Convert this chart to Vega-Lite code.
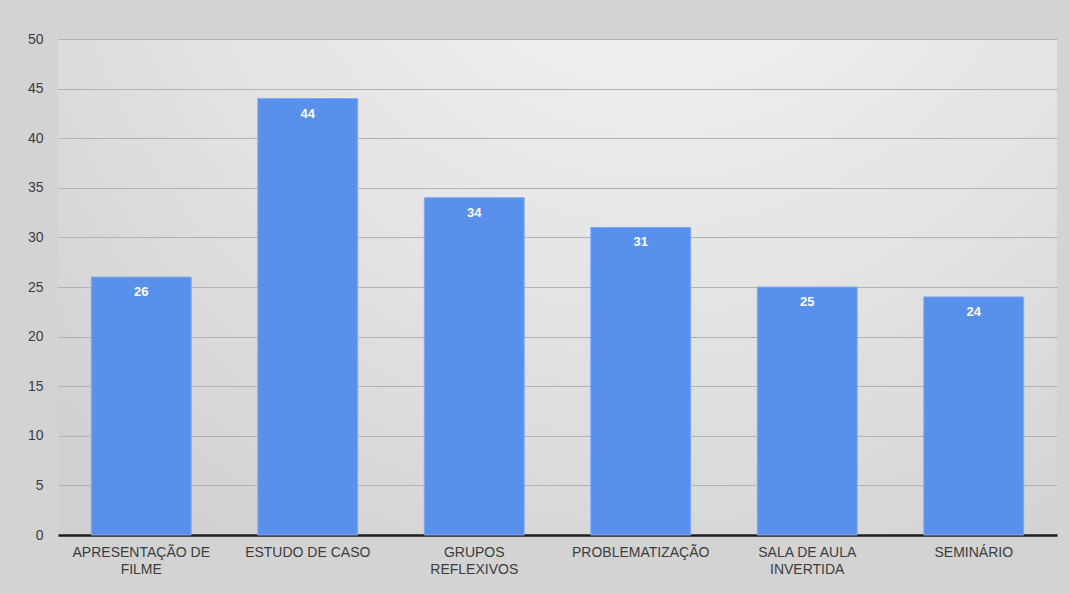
{
  "$schema": "https://vega.github.io/schema/vega-lite/v6.json",
  "width": 999,
  "height": 496,
  "autosize": {"type": "none"},
  "padding": {"left": 58, "top": 39, "right": 12, "bottom": 58},
  "background": "#d3d3d3",
  "config": {
    "font": "Liberation Sans",
    "view": {
      "stroke": null,
      "fill": {
        "gradient": "radial",
        "x1": 0.6, "y1": 0.05, "r1": 0,
        "x2": 0.6, "y2": 0.05, "r2": 0.85,
        "stops": [
          {"offset": 0, "color": "#f6f6f6"},
          {"offset": 0.6, "color": "#e2e2e2"},
          {"offset": 1, "color": "#d0d0d0"}
        ]
      }
    }
  },
  "data": {
    "values": [
      {"metodo": "APRESENTAÇÃO DE FILME", "valor": 26},
      {"metodo": "ESTUDO DE CASO", "valor": 44},
      {"metodo": "GRUPOS REFLEXIVOS", "valor": 34},
      {"metodo": "PROBLEMATIZAÇÃO", "valor": 31},
      {"metodo": "SALA DE AULA INVERTIDA", "valor": 25},
      {"metodo": "SEMINÁRIO", "valor": 24}
    ]
  },
  "encoding": {
    "x": {
      "field": "metodo",
      "type": "nominal",
      "sort": null,
      "scale": {"paddingInner": 0.4, "paddingOuter": 0.2},
      "axis": {
        "title": null,
        "labelAngle": 0,
        "labelFontSize": 14,
        "labelColor": "#3c3c3c",
        "labelPadding": 10,
        "labelLineHeight": 17,
        "labelLimit": 200,
        "ticks": false,
        "domainColor": "#1e1e1e",
        "domainWidth": 2.5,
        "labelExpr": "datum.value == 'APRESENTAÇÃO DE FILME' ? ['APRESENTAÇÃO DE', 'FILME'] : datum.value == 'GRUPOS REFLEXIVOS' ? ['GRUPOS', 'REFLEXIVOS'] : datum.value == 'SALA DE AULA INVERTIDA' ? ['SALA DE AULA', 'INVERTIDA'] : datum.value"
      }
    },
    "y": {
      "field": "valor",
      "type": "quantitative",
      "scale": {"domain": [0, 50]},
      "axis": {
        "title": null,
        "values": [0, 5, 10, 15, 20, 25, 30, 35, 40, 45, 50],
        "labelFontSize": 14,
        "labelColor": "#3c3c3c",
        "labelPadding": 15,
        "ticks": false,
        "domain": false,
        "gridColor": "#b2b2b2",
        "gridWidth": 1.2
      }
    }
  },
  "layer": [
    {
      "mark": {"type": "bar", "color": "#5890ec", "stroke": "#80aaf0", "strokeWidth": 1}
    },
    {
      "mark": {"type": "text", "baseline": "top", "dy": 9, "color": "white", "fontWeight": "bold", "fontSize": 13},
      "encoding": {"text": {"field": "valor", "type": "quantitative"}}
    }
  ]
}
